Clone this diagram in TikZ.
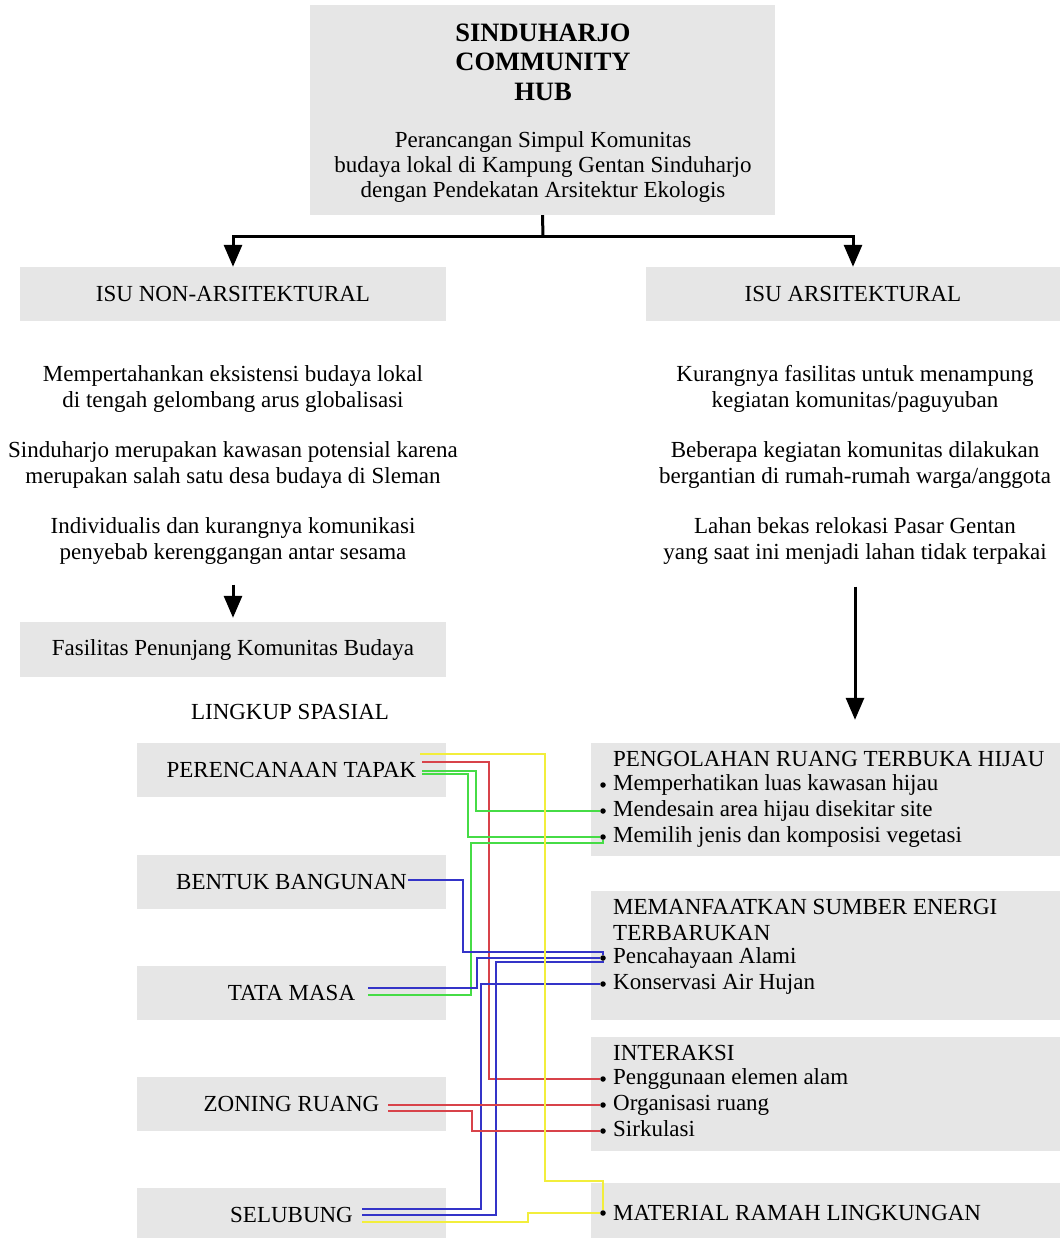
\documentclass[tikz,border=0pt]{standalone}
\usepackage{fontspec}
\setmainfont{Liberation Serif}
\usetikzlibrary{arrows.meta,positioning}

\definecolor{boxgray}{HTML}{E6E6E6}
\definecolor{lnyellow}{HTML}{F2EE3C}
\definecolor{lnred}{HTML}{D8434A}
\definecolor{lngreen}{HTML}{46DC46}
\definecolor{lnblue}{HTML}{3434C8}

\tikzset{
	box/.style={fill=boxgray, draw=none, inner sep=0pt, align=center, font=\fontsize{23}{26}\selectfont},
	sidebox/.style={box, minimum width=309pt, minimum height=54pt},
	rightbox/.style={fill=boxgray, draw=none, minimum width=469pt},
	txt/.style={inner sep=0pt, align=center, font=\fontsize{23}{26}\selectfont},
	item/.style={inner sep=0pt, anchor=west, text height=15pt, text depth=5pt, font=\fontsize{23}{26}\selectfont},
	dot/.style={circle, fill=black, inner sep=0pt, minimum size=5.5pt},
	bigarrow/.style={line width=3pt, -{Triangle[width=18pt,length=22pt]}},
	ln/.style={line width=1.4pt},
	ylw/.style={ln, lnyellow},
	rd/.style={ln, lnred},
	grn/.style={ln, lngreen},
	blu/.style={ln, lnblue}
}

\begin{document}
\begin{tikzpicture}[x=1pt,y=-1pt]
	\useasboundingbox (0,0) rectangle (1060,1238);
	
	% judul
	\node[box, minimum width=465pt, minimum height=210pt] (hub) at (542.5,110) {};
	\node[txt, font=\bfseries\fontsize{26.5}{29.5}\selectfont] (hubtitle) at (543,62) {SINDUHARJO\\COMMUNITY\\HUB};
	\node[txt, font=\fontsize{23}{25}\selectfont] (hubsub) at (543,167) {Perancangan Simpul Komunitas\\budaya lokal di Kampung Gentan Sinduharjo\\dengan Pendekatan Arsitektur Ekologis};
	
	\node[box, minimum width=426pt, minimum height=54pt] (nonars) at (233,294) {ISU NON-ARSITEKTURAL};
	\node[box, minimum width=414pt, minimum height=54pt] (ars) at (853,294) {ISU ARSITEKTURAL};
	
	\coordinate (split) at (543,237);
	\draw[line width=3pt] (hub.south) -- (split);
	\draw[bigarrow] (split) -| (nonars.north);
	\draw[bigarrow] (split) -| (ars.north);
	
	% isu non-arsitektural
	\node[txt] (nt1) at (233,389) {Mempertahankan eksistensi budaya lokal\\di tengah gelombang arus globalisasi};
	\node[txt] (nt2) at (233,465) {Sinduharjo merupakan kawasan potensial karena\\merupakan salah satu desa budaya di Sleman};
	\node[txt] (nt3) at (233,541) {Individualis dan kurangnya komunikasi\\penyebab kerenggangan antar sesama};
	
	\node[box, minimum width=426pt, minimum height=55pt] (fasil) at (233,649.5) {Fasilitas Penunjang Komunitas Budaya};
	\draw[bigarrow, shorten <=20pt, shorten >=4pt] (nt3.south) -- (fasil.north);
	
	% isu arsitektural
	\node[txt] (rt1) at (855,389) {Kurangnya fasilitas untuk menampung\\kegiatan komunitas/paguyuban};
	\node[txt] (rt2) at (855,465) {Beberapa kegiatan komunitas dilakukan\\bergantian di rumah-rumah warga/anggota};
	\node[txt] (rt3) at (855,541) {Lahan bekas relokasi Pasar Gentan\\yang saat ini menjadi lahan tidak terpakai};
	
	\node[txt] (lingkup) at (290,712) {LINGKUP SPASIAL};
	
	% lingkup spasial
	\node[sidebox] (tapak) at (291.5,770) {PERENCANAAN TAPAK};
	\node[sidebox] (bentuk) at (291.5,882) {BENTUK BANGUNAN};
	\node[sidebox] (tata) at (291.5,993) {TATA MASA};
	\node[sidebox] (zoning) at (291.5,1104) {ZONING RUANG};
	\node[sidebox] (selubung) at (291.5,1215) {SELUBUNG};
	
	% kriteria ekologis
	\node[rightbox, minimum height=113pt] (rb1) at (825.5,799.5) {};
	\node[rightbox, minimum height=129pt] (rb2) at (825.5,955.5) {};
	\node[rightbox, minimum height=114pt] (rb3) at (825.5,1094) {};
	\node[rightbox, minimum height=60pt] (rb4) at (825.5,1213) {};
	
	\draw[bigarrow, shorten <=22pt, shorten >=23pt] (rt3.south) -- (rt3.south |- rb1.north);
	
	\node[item] (h1) at (613,761) {PENGOLAHAN RUANG TERBUKA HIJAU};
	\node[dot] (b-luas) at (603,785) {};
	\node[dot] (b-desain) at (603,811) {};
	\node[dot] (b-pilih) at (603,837) {};
	\node[item, right=7pt of b-luas] (i-luas) {Memperhatikan luas kawasan hijau};
	\node[item, right=7pt of b-desain] (i-desain) {Mendesain area hijau disekitar site};
	\node[item, right=7pt of b-pilih] (i-pilih) {Memilih jenis dan komposisi vegetasi};
	
	\node[txt, align=left, anchor=north west, font=\fontsize{23}{25.5}\selectfont] (h2) at (613,899.5) {MEMANFAATKAN SUMBER ENERGI\\TERBARUKAN};
	\node[dot] (b-cahaya) at (603,958) {};
	\node[dot] (b-air) at (603,984) {};
	\node[item, right=7pt of b-cahaya] (i-cahaya) {Pencahayaan Alami};
	\node[item, right=7pt of b-air] (i-air) {Konservasi Air Hujan};
	
	\node[item] (h3) at (613,1055) {INTERAKSI};
	\node[dot] (b-alam) at (603,1079) {};
	\node[dot] (b-org) at (603,1105) {};
	\node[dot] (b-sirk) at (603,1131) {};
	\node[item, right=7pt of b-alam] (i-alam) {Penggunaan elemen alam};
	\node[item, right=7pt of b-org] (i-org) {Organisasi ruang};
	\node[item, right=7pt of b-sirk] (i-sirk) {Sirkulasi};
	
	\node[dot] (b-mat) at (603,1213) {};
	\node[item, right=7pt of b-mat, yshift=-2pt] (i-mat) {MATERIAL RAMAH LINGKUNGAN};
	
	% ujung garis
	\coordinate (tapak-y) at (420,754);
	\coordinate (tapak-r) at (422,762);
	\coordinate (tapak-g1) at (422,771);
	\coordinate (tapak-g2) at (422,774);
	\coordinate (bentuk-b) at (408,880);
	\coordinate (tata-b) at (368,988);
	\coordinate (tata-g) at (368,995);
	\coordinate (zoning-r1) at (388,1105);
	\coordinate (zoning-r2) at (388,1111);
	\coordinate (selubung-b1) at (362,1209);
	\coordinate (selubung-b2) at (362,1215);
	\coordinate (selubung-y) at (362,1222);
	
	\draw[rd] (tapak-r) -- (489,762) |- (b-alam);
	\draw[grn] (tapak-g1) -- (476,771) |- (b-desain);
	\draw[grn] (tapak-g2) -- (468,774) |- (b-pilih);
	\draw[grn] (tata-g) -- (471,995) -- (471,843) -| (b-pilih);
	\draw[blu] (bentuk-b) -- (463,880) -- (463,952) -| (b-cahaya);
	\draw[blu] (tata-b) -- (477,988) |- (b-cahaya);
	\draw[blu] (selubung-b1) -- (481,1209) |- (b-air);
	\draw[blu] (selubung-b2) -- (496,1215) -- (496,962) -| (b-cahaya);
	\draw[rd] (zoning-r1) -- (b-org);
	\draw[rd] (zoning-r2) -- (472,1111) |- (b-sirk);
	\draw[ylw] (tapak-y) -- (545,754) -- (545,1181) -| (b-mat);
	\draw[ylw] (selubung-y) -- (528,1222) -- (528,1213) -- (b-mat);
\end{tikzpicture}
\end{document}
